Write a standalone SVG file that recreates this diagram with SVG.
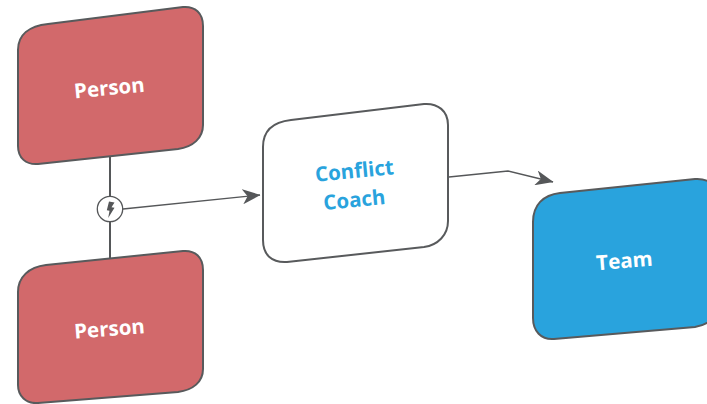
<svg xmlns="http://www.w3.org/2000/svg" width="707" height="404" viewBox="0 0 707 404">
<style>
.box{stroke:#585a5c;stroke-width:2}
.t{font-family:"Open Sans","Liberation Sans",sans-serif;font-weight:700;font-size:20.5px;text-anchor:middle}
.w{fill:#fff}
.b{fill:#29a3dd}
.c{fill:none;stroke:#555759;stroke-width:1.3}
.s{fill:none;stroke:#555759;stroke-width:2}
</style>
<defs>
<marker id="a" viewBox="0 0 18 15" refX="17.500" refY="7.500" markerWidth="18" markerHeight="15" markerUnits="userSpaceOnUse" orient="auto"><path d="M0 0L18 7.500L0 15L5 7.500Z" fill="#555759"/></marker>
</defs>
<rect width="707" height="404" fill="#fff"/>
<g id="connectors">
<path class="s" d="M110 157V197M110 222V258"/>
<path class="c" d="M123 209L260 195" marker-end="url(#a)"/>
<path class="c" d="M449 177L508 171L553 182" marker-end="url(#a)"/>
</g>
<g id="person1">
<path class="box" fill="#d2696b" d="M18 50C18 35 29 26 48 24L183 7C195 6 203 13 203 26L203 125C203 138 193 147 178 149L38 164C26 165 18 158 18 146Z"/>
<text class="t w" transform="translate(110 95) rotate(-5.500)">Person</text>
</g>
<g id="person2">
<path class="box" fill="#d2696b" d="M18 292C18 277 29 267 46 265L183 251C195 250 203 257 203 270L203 369C203 382 193 390 178 392L38 403C26 404 18 396 18 385Z"/>
<text class="t w" transform="translate(110 336) rotate(-4.500)">Person</text>
</g>
<g id="coach">
<path class="box" fill="#fff" d="M263 147C263 131 273 122 291 120L424 104C438 103 448 111 448 125L448 221C448 235 438 245 424 247L287 262C272 263 263 255 263 240Z"/>
<text class="t b" transform="translate(355 178) rotate(-5.500)">Conflict</text>
<text class="t b" transform="translate(355 207) rotate(-5.500)">Coach</text>
</g>
<g id="team">
<path class="box" fill="#29a3dd" d="M533 222C533 205 543 195 560 193L695 179C709 178 718 186 718 199L718 303C718 316 709 325 695 327L554 339C541 340 533 331 533 318Z"/>
<text class="t w" transform="translate(625 268) rotate(-4.500)">Team</text>
</g>
<g id="conflict">
<circle cx="110" cy="209" r="12.700" fill="#fff" stroke="#555759" stroke-width="1.300"/>
<path d="M109 201.500L114.500 202.500L111.500 207.200L114.500 207.800L108.200 218L109.500 210.800L106.800 210.300Z" fill="#555759"/>
</g>
</svg>
